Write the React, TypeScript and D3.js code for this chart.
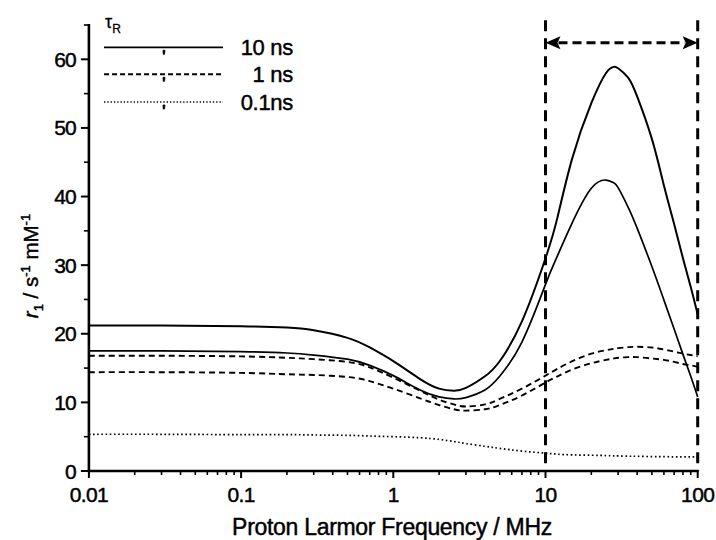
import React from "react";
import * as d3 from "d3";

const freq = [0.01, 0.03, 0.1, 0.2, 0.3, 0.5, 0.7, 1, 1.5, 2, 2.5, 3, 4, 5, 7, 10, 12, 15, 20, 25, 28, 30, 35, 40, 50, 60, 70, 80, 90, 100];
const solidA = [21.2, 21.2, 21.1, 20.9, 20.5, 19.4, 18.0, 16.0, 13.4, 12.0, 11.7, 12.1, 13.8, 16.0, 21.8, 31.0, 37.0, 45.6, 53.6, 58.0, 58.9, 58.7, 57.3, 54.6, 48.4, 41.6, 36.0, 31.0, 26.8, 22.8];
const solidB = [17.5, 17.5, 17.4, 17.2, 16.9, 16.3, 15.4, 13.9, 11.8, 10.8, 10.5, 10.7, 11.8, 13.8, 18.8, 27.2, 31.4, 36.2, 41.2, 42.4, 42.0, 41.3, 38.4, 35.4, 29.8, 24.9, 20.7, 17.0, 13.8, 10.8];
const dashA = [16.8, 16.8, 16.7, 16.5, 16.3, 15.9, 15.1, 13.6, 11.7, 10.4, 9.7, 9.4, 9.7, 10.5, 12.0, 13.9, 14.9, 16.0, 17.1, 17.6, 17.8, 17.9, 18.05, 18.1, 18.0, 17.7, 17.4, 17.1, 16.9, 16.7];
const dashB = [14.4, 14.4, 14.3, 14.1, 14.0, 13.7, 13.1, 12.0, 10.6, 9.6, 9.0, 8.8, 9.0, 9.6, 11.0, 12.9, 13.8, 14.8, 15.7, 16.2, 16.4, 16.5, 16.6, 16.6, 16.4, 16.2, 15.9, 15.6, 15.4, 15.2];
const dotC = [5.35, 5.35, 5.3, 5.3, 5.25, 5.2, 5.1, 5.0, 4.85, 4.6, 4.3, 4.0, 3.6, 3.3, 2.9, 2.6, 2.45, 2.35, 2.3, 2.25, 2.2, 2.2, 2.15, 2.15, 2.1, 2.1, 2.05, 2.05, 2.05, 2.05];

const xTicks = [0.01, 0.1, 1, 10, 100];
const xTickLabels = ["0.01", "0.1", "1", "10", "100"];
const yTicks = [0, 10, 20, 30, 40, 50, 60];
const yMinor = [5, 15, 25, 35, 45, 55, 65];
const legendLabels = ["10 ns", "1 ns", "0.1ns"];
const markerFreqs = [10, 100];
const arrowLevel = 62.4;
const markerTop = 65.7;

const FONT = "'Liberation Sans', Arial, Helvetica, sans-serif";

export default function App() {
  const W = 716, H = 540;
  const x = d3.scaleLog().domain([0.01, 100]).range([88.9, 697.7]);
  const y = d3.scaleLinear().domain([0, 65]).range([471, 25]);

  const line = d3
    .line<number>()
    .x((_, i) => x(freq[i]))
    .y((d) => y(d))
    .curve(d3.curveNatural);

  const series = [
    { v: solidA, dash: "none", w: 2.0 },
    { v: solidB, dash: "none", w: 1.7 },
    { v: dashA, dash: "6,4", w: 1.9 },
    { v: dashB, dash: "6,4", w: 1.9 },
    { v: dotC, dash: "1.6,2.6", w: 1.7 },
  ];

  const minorX: number[] = [];
  for (let e = -2; e < 2; e++) {
    for (let k = 2; k <= 9; k++) minorX.push(k * Math.pow(10, e));
  }

  const legendStyles = [
    { dash: "none", w: 1.8 },
    { dash: "5,3", w: 1.9 },
    { dash: "1.3,2", w: 1.3 },
  ];
  const legendY = [47.3, 74.3, 102];

  const xL = x(markerFreqs[0]);
  const xR = x(markerFreqs[1]);
  const ya = y(arrowLevel);
  const headL = 15, headW = 6.5;

  const textStyle = { fontFamily: FONT, fill: "#000", stroke: "#000", strokeWidth: 0.45 } as const;

  return (
    <svg width={W} height={H} style={{ position: "absolute", left: 0, top: 0, background: "#fff" }}>
      <rect width={W} height={H} fill="#fff" />
      {series.map((s, i) => (
        <path key={i} d={line(s.v) || ""} fill="none" stroke="#000" strokeWidth={s.w} strokeDasharray={s.dash} />
      ))}

      {markerFreqs.map((f, i) => (
        <line key={i} x1={x(f)} x2={x(f)} y1={y(markerTop)} y2={y(0)} stroke="#000" strokeWidth={3} strokeDasharray="11,7" />
      ))}
      <line x1={xL + headL - 2} x2={xR - headL + 2} y1={ya} y2={ya} stroke="#000" strokeWidth={3} strokeDasharray="9,5" />
      <path d={`M${xL},${ya} L${xL + headL},${ya - headW} L${xL + headL - 3},${ya} L${xL + headL},${ya + headW} Z`} fill="#000" />
      <path d={`M${xR},${ya} L${xR - headL},${ya - headW} L${xR - headL + 3},${ya} L${xR - headL},${ya + headW} Z`} fill="#000" />

      <line x1={x(0.01)} x2={x(100) + 1} y1={y(0)} y2={y(0)} stroke="#000" strokeWidth={2.6} />
      <line x1={x(0.01)} x2={x(0.01)} y1={y(0) + 1.3} y2={y(65) - 1} stroke="#000" strokeWidth={2.6} />

      {xTicks.map((t, i) => (
        <g key={i}>
          <line x1={x(t)} x2={x(t)} y1={y(0)} y2={y(0) + 7} stroke="#000" strokeWidth={2} />
          <text x={x(t)} y={502} textAnchor="middle" fontSize={21} letterSpacing={-0.6} style={textStyle}>
            {xTickLabels[i]}
          </text>
        </g>
      ))}
      {minorX.map((t, i) => (
        <line key={i} x1={x(t)} x2={x(t)} y1={y(0)} y2={y(0) + 4} stroke="#000" strokeWidth={1.6} />
      ))}
      {yTicks.map((t, i) => (
        <g key={i}>
          <line x1={x(0.01) - 8} x2={x(0.01)} y1={y(t)} y2={y(t)} stroke="#000" strokeWidth={2} />
          <text x={76} y={y(t) + 7.5} textAnchor="end" fontSize={21} letterSpacing={-0.8} style={textStyle}>
            {t}
          </text>
        </g>
      ))}
      {yMinor.map((t, i) => (
        <line key={i} x1={x(0.01) - 5} x2={x(0.01)} y1={y(t)} y2={y(t)} stroke="#000" strokeWidth={1.6} />
      ))}

      <text x={392} y={535} textAnchor="middle" fontSize={23} letterSpacing={-0.3} style={textStyle}>
        Proton Larmor Frequency / MHz
      </text>
      <text transform="translate(38,266) rotate(-90)" textAnchor="middle" fontSize={20.5} style={textStyle}>
        <tspan fontStyle="italic">r</tspan>
        <tspan fontSize={13} dy={5}>1</tspan>
        <tspan dy={-5}> / s</tspan>
        <tspan fontSize={13} dy={-8}>-1</tspan>
        <tspan dy={8}> mM</tspan>
        <tspan fontSize={13} dy={-8}>-1</tspan>
      </text>

      <text x={105} y={28} fontSize={18} style={{ ...textStyle, strokeWidth: 0.3 }}>
        τ<tspan fontSize={12} dy={5}>R</tspan>
      </text>
      {legendLabels.map((lab, i) => (
        <g key={i}>
          <line x1={104} x2={223} y1={legendY[i]} y2={legendY[i]} stroke="#000" strokeWidth={legendStyles[i].w} strokeDasharray={legendStyles[i].dash} />
          <path
            d={`M${163},${legendY[i] + 3} L${165},${legendY[i] + 3} L${164.5},${legendY[i] + 7} L${163.2},${legendY[i] + 7} Z`}
            fill="#000"
            stroke="#000"
            strokeWidth={0.8}
          />
          <text x={293} y={legendY[i] + 7.5} textAnchor="end" fontSize={22} letterSpacing={-0.3} style={textStyle}>
            {lab}
          </text>
        </g>
      ))}
    </svg>
  );
}
